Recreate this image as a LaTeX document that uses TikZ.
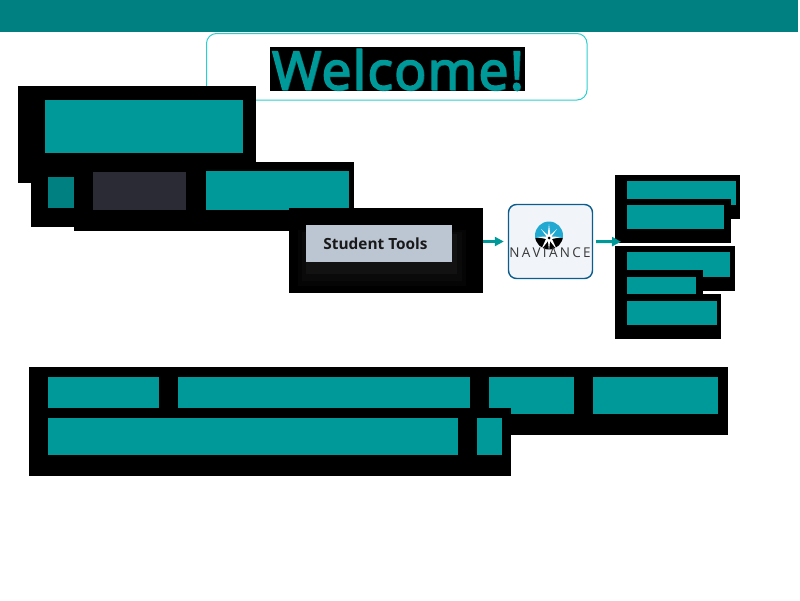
\documentclass[tikz,border=0pt]{standalone}
\usepackage{fontspec}
\setmainfont{Open Sans}
\newfontfamily\welcomefont[FakeBold=2.4,LetterSpace=2.5]{Open Sans}
\usetikzlibrary{arrows.meta}
\definecolor{banner}{HTML}{008080}
\definecolor{tealbox}{HTML}{009999}
\definecolor{darkbox}{HTML}{2B2B36}
\definecolor{lightbox}{HTML}{BCC6D3}
\definecolor{outline}{HTML}{2CCFCF}
\definecolor{navfill}{HTML}{F1F5F9}
\definecolor{navline}{HTML}{0B5C8F}
\definecolor{navblue}{HTML}{22A9D2}
\tikzset{
  blk/.style={fill=black},
  tl/.style={fill=tealbox},
  tld/.style={fill=banner},
  flow/.style={draw=tealbox,line width=3pt,-{Triangle[length=9pt,width=9pt]}},
}
\newcommand\bx[6]{%
  \pgfmathsetmacro\bxw{#4-#2}\pgfmathsetmacro\bxh{#5-#3}%
  \node[anchor=north west,inner sep=0pt,outer sep=0pt,minimum width=\bxw pt,minimum height=\bxh pt,#6] (#1) at (#2,#3) {};}
\newcommand\welcometext{\resizebox{252pt}{!}{\welcomefont\fontsize{56}{56}\selectfont Welcome!}}
\begin{document}
\begin{tikzpicture}[x=1pt,y=-1pt]
\useasboundingbox (0,0) rectangle (800,600);
\bx{banner}{0}{0}{798}{32}{fill=banner}
\draw[outline,line width=1pt,rounded corners=10pt] (206.5,33.5) rectangle (587,100);
\bx{welcomebg}{270}{47}{525}{91}{blk}
\node[inner sep=0pt,text=banner!80!black,anchor=base] (welcomeb) at (398.5,90) {\welcometext};
\node[inner sep=0pt,text=tealbox,anchor=base] (welcome) at (397.8,89.4) {\welcometext};
% upper left
\bx{a}{18}{86}{256}{183}{blk}
\bx{b}{31}{162}{354}{227}{blk}
\bx{c}{74}{200}{354}{231}{blk}
\bx{a1}{45}{100}{243}{153}{tl}
\bx{b1}{48}{177}{74}{208}{tld}
\bx{b2}{93}{172}{186}{210}{fill=darkbox}
\bx{b3}{206}{171}{349}{210}{tl}
% student tools
\bx{stubg}{289}{208}{483}{293}{blk}
\bx{sh1}{298}{230}{466}{286}{fill=white!2!black}
\bx{sh2}{302}{232}{462}{281}{fill=white!4!black}
\bx{sh3}{306}{234}{457}{274}{fill=white!7!black}
\bx{stu}{306}{225}{452}{262}{fill=lightbox}
\node[inner sep=0pt,text=black!90,font=\fontsize{15.4}{15.4}\selectfont\bfseries] (stutext) at (375.5,243.5) {Student Tools};
% naviance
\node[draw=navline,fill=navfill,line width=1.4pt,rounded corners=8pt,minimum width=84pt,minimum height=74pt,inner sep=0pt] (nav) at (550.5,241.5) {};
\begin{scope}
\clip (549,235.5) circle (14);
\fill[navblue] (530,218) rectangle (570,238);
\fill[black] (530,238) rectangle (570,252);
\fill[white] (549,224) -- (550.3,235) -- (557,229) -- (551.5,236.5) -- (561,237)
  -- (552,239) -- (557,250) -- (550,241) -- (549,251) -- (548,241) -- (541,250) -- (546,239) -- (537,237)
  -- (546.5,236.5) -- (541,229) -- (547.7,235) -- cycle;
\end{scope}
\fill[black] (549,238) circle (1.5);
\node[inner sep=0pt,text=black!78,font=\fontsize{13.5}{13.5}\selectfont] (navtext) at (550,253) {N\kern2.3pt A\kern2.3pt V\kern2.3pt I\kern2.3pt A\kern2.3pt N\kern2.3pt C\kern2.3pt E};
% right panels
\bx{r1}{615}{175}{740}{219}{blk}
\bx{r2}{615}{199}{731}{243}{blk}
\bx{r3}{615}{246}{735}{291}{blk}
\bx{r4}{615}{270}{703}{294}{blk}
\bx{r5}{615}{294}{721}{339}{blk}
\bx{r1t}{627}{181}{736}{199}{tl}
\bx{r1x}{731}{199}{736}{205}{tl}
\bx{r2t}{627}{205}{724}{229}{tl}
\bx{r3t}{627}{252}{730}{270}{tl}
\bx{r3x}{703}{270}{730}{277}{tl}
\bx{r4t}{627}{277}{696}{294}{tl}
\bx{r5t}{627}{301}{717}{325}{tl}
% bottom block
\bx{d}{29}{367}{728}{435}{blk}
\bx{e}{29}{408}{511}{476}{blk}
\bx{d1}{48}{377}{159}{408}{tl}
\bx{d2}{178}{377}{470}{408}{tl}
\bx{d3}{489}{377}{574}{408}{tl}
\bx{d3x}{511}{408}{574}{414}{tl}
\bx{d4}{593}{377}{718}{414}{tl}
\bx{e1}{48}{418}{458}{455}{tl}
\bx{e2}{477}{418}{502}{455}{tl}
% connectors
\coordinate (panelin) at (621,241.7);
\draw[flow] (stubg.east |- nav.west) -- ([xshift=-4pt]nav.west);
\draw[flow] ([xshift=3pt]nav.east) -- (panelin);
\end{tikzpicture}
\end{document}
